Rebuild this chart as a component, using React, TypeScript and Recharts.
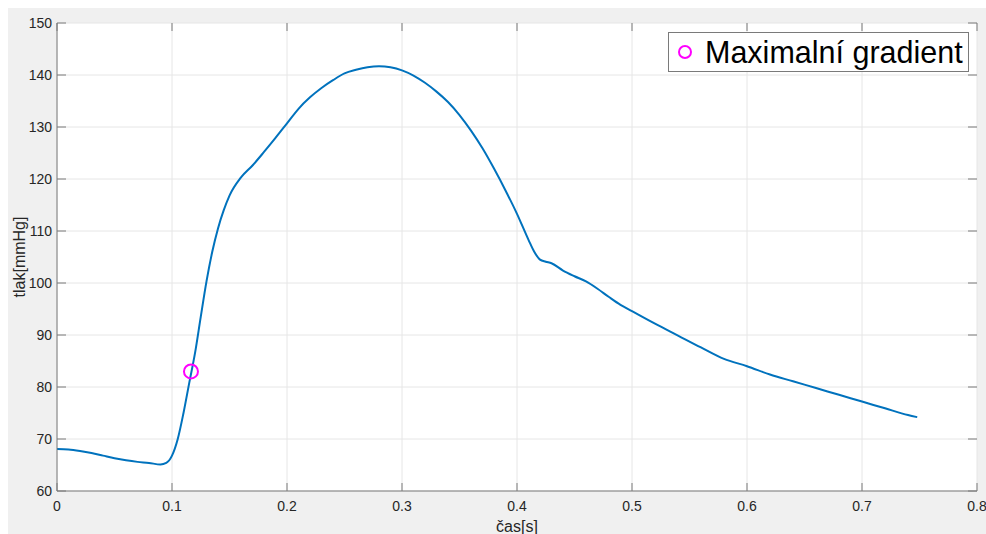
import React from 'react';
import { ComposedChart, Line, Scatter, XAxis, YAxis, CartesianGrid } from 'recharts';

const times = [
  0, 0.01, 0.02, 0.03, 0.04, 0.05, 0.06, 0.07, 0.08, 0.09, 0.095, 0.1, 0.105, 0.11, 0.115,
  0.12, 0.125, 0.13, 0.135, 0.14, 0.145, 0.15, 0.16, 0.17, 0.18, 0.19, 0.2, 0.21, 0.22,
  0.23, 0.24, 0.25, 0.26, 0.27, 0.28, 0.29, 0.3, 0.31, 0.32, 0.33, 0.34, 0.35, 0.36, 0.37,
  0.38, 0.39, 0.4, 0.41, 0.415, 0.42, 0.425, 0.43, 0.44, 0.45, 0.46, 0.47, 0.48, 0.49, 0.5,
  0.52, 0.54, 0.56, 0.58, 0.6, 0.62, 0.64, 0.66, 0.68, 0.7, 0.72, 0.74, 0.748,
];
const pressures = [
  68.1, 68.0, 67.7, 67.3, 66.8, 66.3, 65.9, 65.6, 65.4, 65.1, 65.4, 66.8, 70.0, 75.0, 80.8,
  86.5, 93.5, 100.3, 106.0, 110.5, 114.0, 116.8, 120.3, 122.6, 125.2, 127.9, 130.7, 133.5, 135.7,
  137.5, 139.0, 140.3, 141.0, 141.5, 141.7, 141.5, 140.9, 139.9, 138.5, 136.8, 134.8, 132.3, 129.3, 125.9,
  122.0, 117.8, 113.3, 108.3, 106.0, 104.5, 104.1, 103.8, 102.4, 101.3, 100.3, 98.9, 97.3, 95.8, 94.6,
  92.2, 89.9, 87.6, 85.4, 84.0, 82.4, 81.1, 79.8, 78.5, 77.2, 75.9, 74.6, 74.2,
];
const gradientPoint = [{ t: 0.1165, p: 83 }];
const xTicks = [0, 0.1, 0.2, 0.3, 0.4, 0.5, 0.6, 0.7, 0.8];
const yTicks = [60, 70, 80, 90, 100, 110, 120, 130, 140, 150];

const data = times.map((t, i) => ({ t, p: pressures[i] }));

const W = 978;
const H = 526;
const margin = { top: 15, right: 9, left: 0, bottom: 0 };
const yAxisW = 49;
const xAxisH = 43;
const plotTop = margin.top;
const plotLeft = yAxisW;
const plotRight = W - margin.right;
const plotBottom = H - xAxisH;
const axisColor = '#7a7a7a';
const textColor = '#262626';
const font = '"Liberation Sans", Arial, sans-serif';

const XTick = (props: any) => {
  const { x, y, payload } = props;
  return (
    <g>
      <line x1={x} y1={y} x2={x} y2={y - 8} stroke={axisColor} />
      <line x1={x} y1={plotTop} x2={x} y2={plotTop + 8} stroke={axisColor} />
      <text x={x} y={y + 20} textAnchor="middle" fill={textColor} fontSize={14} fontFamily={font}>
        {payload.value}
      </text>
    </g>
  );
};

const YTick = (props: any) => {
  const { x, y, payload } = props;
  return (
    <g>
      <line x1={x} y1={y} x2={x + 9} y2={y} stroke={axisColor} />
      <line x1={plotRight} y1={y} x2={plotRight - 9} y2={y} stroke={axisColor} />
      <text x={x - 5} y={y + 5} textAnchor="end" fill={textColor} fontSize={14} fontFamily={font}>
        {payload.value}
      </text>
    </g>
  );
};

export default function App() {
  return (
    <div style={{ width: 986, height: 534, background: '#fff', paddingTop: 8, paddingLeft: 8, boxSizing: 'border-box' }}>
      <style>{'body { margin: 0; overflow: hidden; } .recharts-wrapper, .recharts-surface { overflow: visible !important; }'}</style>
      <div style={{ width: W, height: H, background: '#f0f0f0', position: 'relative' }}>
        <ComposedChart width={W} height={H} data={data} margin={margin}>
          <CartesianGrid stroke="#e6e6e6" fill="#fff" vertical horizontal />
          <XAxis
            dataKey="t"
            type="number"
            domain={[0, 0.8]}
            ticks={xTicks}
            height={xAxisH}
            tickSize={0}
            tickMargin={0}
            tick={<XTick />}
            stroke={axisColor}
            interval={0}
          />
          <XAxis
            xAxisId="top"
            orientation="top"
            type="number"
            domain={[0, 0.8]}
            height={0}
            tick={false}
            tickLine={false}
            stroke={axisColor}
          />
          <YAxis
            type="number"
            domain={[60, 150]}
            ticks={yTicks}
            width={yAxisW}
            tickSize={0}
            tickMargin={0}
            tick={<YTick />}
            stroke={axisColor}
            interval={0}
          />
          <YAxis
            yAxisId="right"
            orientation="right"
            type="number"
            domain={[60, 150]}
            width={0}
            tick={false}
            tickLine={false}
            stroke={axisColor}
          />
          <Line
            dataKey="p"
            type="monotone"
            stroke="#0072bd"
            strokeWidth={2}
            dot={false}
            isAnimationActive={false}
          />
          <Scatter
            data={gradientPoint}
            dataKey="p"
            fill="none"
            stroke="#ff00ff"
            strokeWidth={2}
            shape={(p: any) => <circle cx={p.cx} cy={p.cy} r={7} fill="none" stroke="#ff00ff" strokeWidth={2} />}
            isAnimationActive={false}
          />
        </ComposedChart>
        <div
          style={{
            position: 'absolute',
            top: 24,
            left: 660,
            width: 301,
            height: 40,
            background: '#fff',
            border: '1px solid #7a7a7a',
            display: 'flex',
            alignItems: 'center',
            fontFamily: font,
            fontSize: 30.5,
            color: '#000',
            boxSizing: 'border-box',
            whiteSpace: 'nowrap',
          }}
        >
          <svg width={36} height={38} style={{ flexShrink: 0 }}>
            <circle cx={16} cy={19} r={6} fill="none" stroke="#ff00ff" strokeWidth={2} />
          </svg>
          <span style={{ lineHeight: '38px' }}>Maximalní gradient</span>
        </div>
        <div
          style={{
            position: 'absolute',
            left: 12,
            top: (plotTop + plotBottom) / 2,
            transform: 'translate(-50%, -50%) rotate(-90deg)',
            fontFamily: font,
            fontSize: 16,
            color: textColor,
            whiteSpace: 'nowrap',
          }}
        >
          tlak[mmHg]
        </div>
        <div
          style={{
            position: 'absolute',
            left: (plotLeft + plotRight) / 2,
            top: 519,
            transform: 'translate(-50%, -50%)',
            fontFamily: font,
            fontSize: 16,
            color: textColor,
            whiteSpace: 'nowrap',
          }}
        >
          čas[s]
        </div>
      </div>
    </div>
  );
}
